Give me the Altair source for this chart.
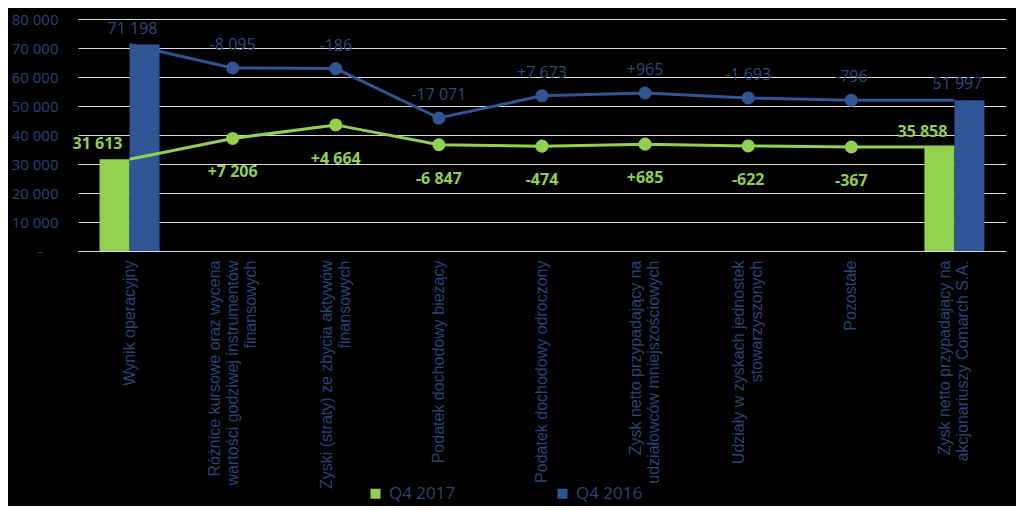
import altair as alt
import pandas as pd

categories = [
    "Wynik operacyjny",
    "Różnice kursowe oraz wycena|wartości godziwej instrumentów|finansowych",
    "Zyski (straty) ze zbycia aktywów|finansowych",
    "Podatek dochodowy bieżący",
    "Podatek dochodowy odroczony",
    "Zysk netto przypadający na|udziałowców mniejszościowych",
    "Udziały w zyskach jednostek|stowarzyszonych",
    "Pozostałe",
    "Zysk netto przypadający na|akcjonariuszy Comarch S.A.",
]
series = ["Q4 2017", "Q4 2016"]

start_2017 = 31613
end_2017 = 35858
delta_2017 = [7206, 4664, -6847, -474, 685, -622, -367]

start_2016 = 71198
end_2016 = 51997
delta_2016 = [-8095, -186, -17071, 7673, 965, -1693, -796]

GREEN = "#92D050"
BLUE = "#2F5597"
BLUE_TEXT = "#2E4A7C"
AXIS_TEXT = "#2A4375"


def fmt(v, signed=False):
    s = f"{v:+,}" if signed else f"{v:,}"
    return s.replace(",", " ")


line_rows = []
bar_rows = []
for name, start, end, deltas in [
    ("Q4 2017", start_2017, end_2017, delta_2017),
    ("Q4 2016", start_2016, end_2016, delta_2016),
]:
    running = start
    line_rows.append({"cat": categories[0], "series": name, "value": start, "label": ""})
    for c, d in zip(categories[1:-1], deltas):
        running += d
        line_rows.append({"cat": c, "series": name, "value": running, "label": fmt(d, True)})
    line_rows.append({"cat": categories[-1], "series": name, "value": end, "label": ""})
    bar_rows.append({"cat": categories[0], "series": name, "value": start, "label": fmt(start)})
    bar_rows.append({"cat": categories[-1], "series": name, "value": end, "label": fmt(end)})

lines_df = pd.DataFrame(line_rows)
bars_df = pd.DataFrame(bar_rows)

LINE_H = 18

x_enc = alt.X(
    "cat:N",
    sort=categories,
    scale=alt.Scale(domain=categories, paddingInner=0.418, paddingOuter=0.209),
    axis=alt.Axis(
        title=None,
        labelAngle=-90,
        labelExpr="split(datum.label, '|')",
        labelOffset=alt.ExprRef(f"-(length(split(datum.value, '|')) - 1) * {LINE_H / 2}"),
        labelColor=AXIS_TEXT,
        labelFont="Liberation Sans",
        labelFontSize=16,
        labelLineHeight=LINE_H,
        labelPadding=9,
        labelLimit=400,
        ticks=False,
        domain=False,
        grid=False,
    ),
)

y_enc = alt.Y(
    "value:Q",
    scale=alt.Scale(domain=[0, 80000], nice=False),
    axis=alt.Axis(
        title=None,
        values=list(range(0, 80001, 10000)),
        labelExpr="datum.value == 0 ? '-' : replace(format(datum.value, ',d'), ',', ' ')",
        labelPadding=alt.ExprRef("datum.value == 0 ? 36 : 20"),
        labelColor=AXIS_TEXT,
        labelFont="Open Sans",
        labelFontSize=15,
        ticks=False,
        domain=False,
        grid=True,
        gridColor="#D9D9D9",
        gridWidth=1.2,
    ),
)

color_scale = alt.Scale(domain=series, range=[GREEN, BLUE])
x_off = alt.XOffset("series:N", sort=series, scale=alt.Scale(domain=series))

bars = alt.Chart(bars_df).mark_bar().encode(
    x=x_enc,
    xOffset=x_off,
    y=y_enc,
    color=alt.Color(
        "series:N",
        scale=color_scale,
        sort=series,
        legend=alt.Legend(
            title=None,
            orient="none",
            legendX=289,
            legendY=466,
            direction="horizontal",
            symbolType="square",
            symbolSize=100,
            symbolStrokeWidth=0,
            labelColor="#2E4470",
            labelFont="Open Sans",
            labelFontSize=17,
            labelOffset=5,
            columnPadding=98,
        ),
    ),
)

lines = alt.Chart(lines_df).mark_line(strokeWidth=3).encode(
    x=x_enc,
    y=y_enc,
    color=alt.Color("series:N", scale=color_scale, legend=None),
    detail="series:N",
)

points = alt.Chart(lines_df).transform_filter("datum.label != ''").mark_circle(size=170, opacity=1).encode(
    x=x_enc,
    y=y_enc,
    color=alt.Color("series:N", scale=color_scale, legend=None),
)

blue_labels = alt.Chart(lines_df).transform_filter(
    "datum.label != '' && datum.series == 'Q4 2016'"
).mark_text(font="Open Sans", fontSize=16, color=BLUE_TEXT, baseline="middle", dy=-23).encode(
    x=x_enc, y=y_enc, text="label:N"
)

green_labels = alt.Chart(lines_df).transform_filter(
    "datum.label != '' && datum.series == 'Q4 2017'"
).mark_text(font="Open Sans", fontSize=16, fontWeight="bold", color=GREEN, baseline="middle", dy=34).encode(
    x=x_enc, y=y_enc, text="label:N"
)

bar_label_green = alt.Chart(bars_df).transform_filter("datum.series == 'Q4 2017'").mark_text(
    font="Open Sans", fontSize=16, fontWeight="bold", color=GREEN, baseline="bottom", dy=-7, dx=-17
).encode(x=x_enc, xOffset=x_off, y=y_enc, text="label:N")

bar_label_blue = alt.Chart(bars_df).transform_filter("datum.series == 'Q4 2016'").mark_text(
    font="Open Sans", fontSize=16, color=BLUE_TEXT, baseline="bottom", dy=-8, dx=-12
).encode(x=x_enc, xOffset=x_off, y=y_enc, text="label:N")

chart = (
    alt.layer(bars, lines, points, blue_labels, green_labels, bar_label_green, bar_label_blue)
    .properties(
        width=928,
        height=232,
        background="black",
        autosize=alt.AutoSizeParams(type="none"),
        padding={"left": 70, "top": 11, "right": 10, "bottom": 255},
    )
    .configure_view(stroke=None)
)

chart.save("out.html", embed_options={"renderer": "svg", "actions": False})
